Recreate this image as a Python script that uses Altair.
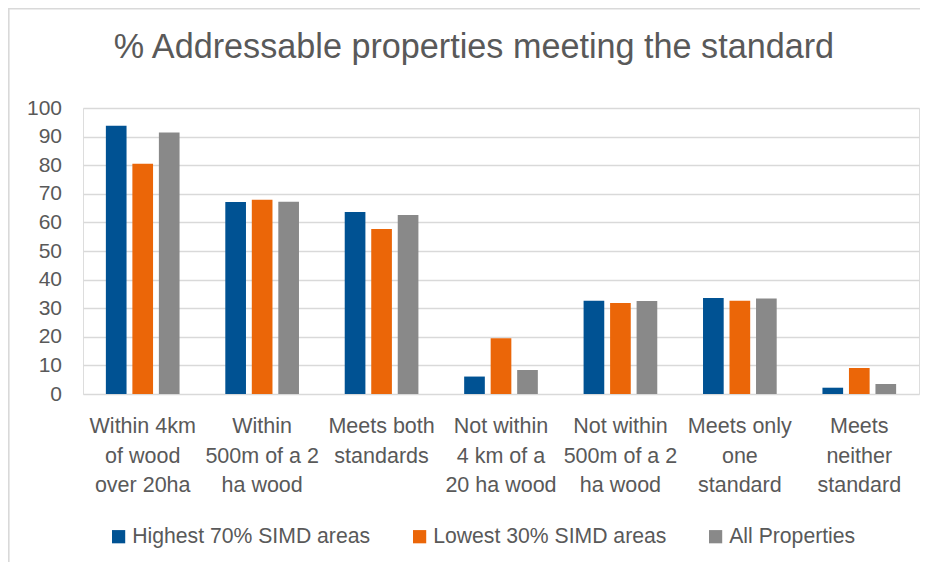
import altair as alt
import pandas as pd

# ---- data ----
categories = [
    "Within 4km|of wood|over 20ha",
    "Within|500m of a 2|ha wood",
    "Meets both|standards",
    "Not within|4 km of a|20 ha wood",
    "Not within|500m of a 2|ha wood",
    "Meets only|one|standard",
    "Meets|neither|standard",
]
series = ["Highest 70% SIMD areas", "Lowest 30% SIMD areas", "All Properties"]
highest_70 = [93.8, 67.1, 63.6, 6.1, 32.6, 33.6, 2.2]
lowest_30 = [80.5, 67.9, 57.7, 19.5, 31.8, 32.6, 9.1]
all_props = [91.4, 67.2, 62.6, 8.4, 32.5, 33.4, 3.5]
colors = ["#005293", "#EB6608", "#898989"]
title_text = "% Addressable properties meeting the standard"
y_ticks = list(range(0, 101, 10))

rows = []
for s, vals in zip(series, [highest_70, lowest_30, all_props]):
    for c, v in zip(categories, vals):
        rows.append({"category": c, "series": s, "value": v})
df = pd.DataFrame(rows)

FONT = "Liberation Sans"
TXT = "#595959"
GRID = "#D9D9D9"

bars = alt.Chart(df).mark_bar().encode(
    x=alt.X("category:N", sort=categories,
            scale=alt.Scale(paddingInner=0, paddingOuter=0),
            axis=alt.Axis(title=None, domain=False, ticks=False, tickSize=0,
                          labelAngle=0, labelAlign="center", labelBaseline="top",
                          labelExpr="split(datum.label, '|')",
                          labelFontSize=21.5, labelLineHeight=29.5,
                          labelPadding=21.5, labelColor=TXT, labelFont=FONT,
                          labelLimit=300)),
    xOffset=alt.XOffset("series:N", sort=series,
                        scale=alt.Scale(paddingInner=0.22, paddingOuter=0.863)),
    y=alt.Y("value:Q", scale=alt.Scale(domain=[0, 100], nice=False),
            axis=alt.Axis(title=None, values=y_ticks, domain=False, ticks=False,
                          tickSize=0, grid=True, gridColor=GRID, gridWidth=1.3,
                          labelFontSize=21, labelColor=TXT, labelFont=FONT,
                          labelPadding=21.5)),
    color=alt.Color("series:N", sort=series,
                    scale=alt.Scale(domain=series, range=colors),
                    legend=alt.Legend(title=None, orient="none", direction="horizontal",
                                      legendX=25, legendY=418, padding=0,
                                      symbolType="square", symbolSize=175,
                                      symbolStrokeWidth=0, labelOffset=3,
                                      columnPadding=38, labelFontSize=21.2,
                                      labelColor=TXT, labelFont=FONT,
                                      labelLimit=400)),
)

title_df = pd.DataFrame({"t": [title_text]})
title = alt.Chart(title_df).mark_text(
    font=FONT, fontSize=34.2, color=TXT, align="center", baseline="alphabetic"
).encode(text="t:N", x=alt.value(391), y=alt.value(-50.5))

frame_df = pd.DataFrame({"k": [0]})
frame_left = alt.Chart(frame_df).mark_rule(color=GRID, strokeWidth=1.6).encode(
    x=alt.value(-74.2), y=alt.value(-99.2), y2=alt.value(470))
frame_top = alt.Chart(frame_df).mark_rule(color=GRID, strokeWidth=1.6).encode(
    y=alt.value(-99.2), x=alt.value(-75), x2=alt.value(860))

chart = alt.layer(frame_left, frame_top, bars, title).properties(
    width=836, height=286,
    autosize=alt.AutoSizeParams(type="none"),
    padding={"left": 75, "top": 100, "right": 1, "bottom": 168},
).configure_view(stroke=None).configure(background="white")

chart.save("out.html", embed_options={"renderer": "svg", "actions": False})
